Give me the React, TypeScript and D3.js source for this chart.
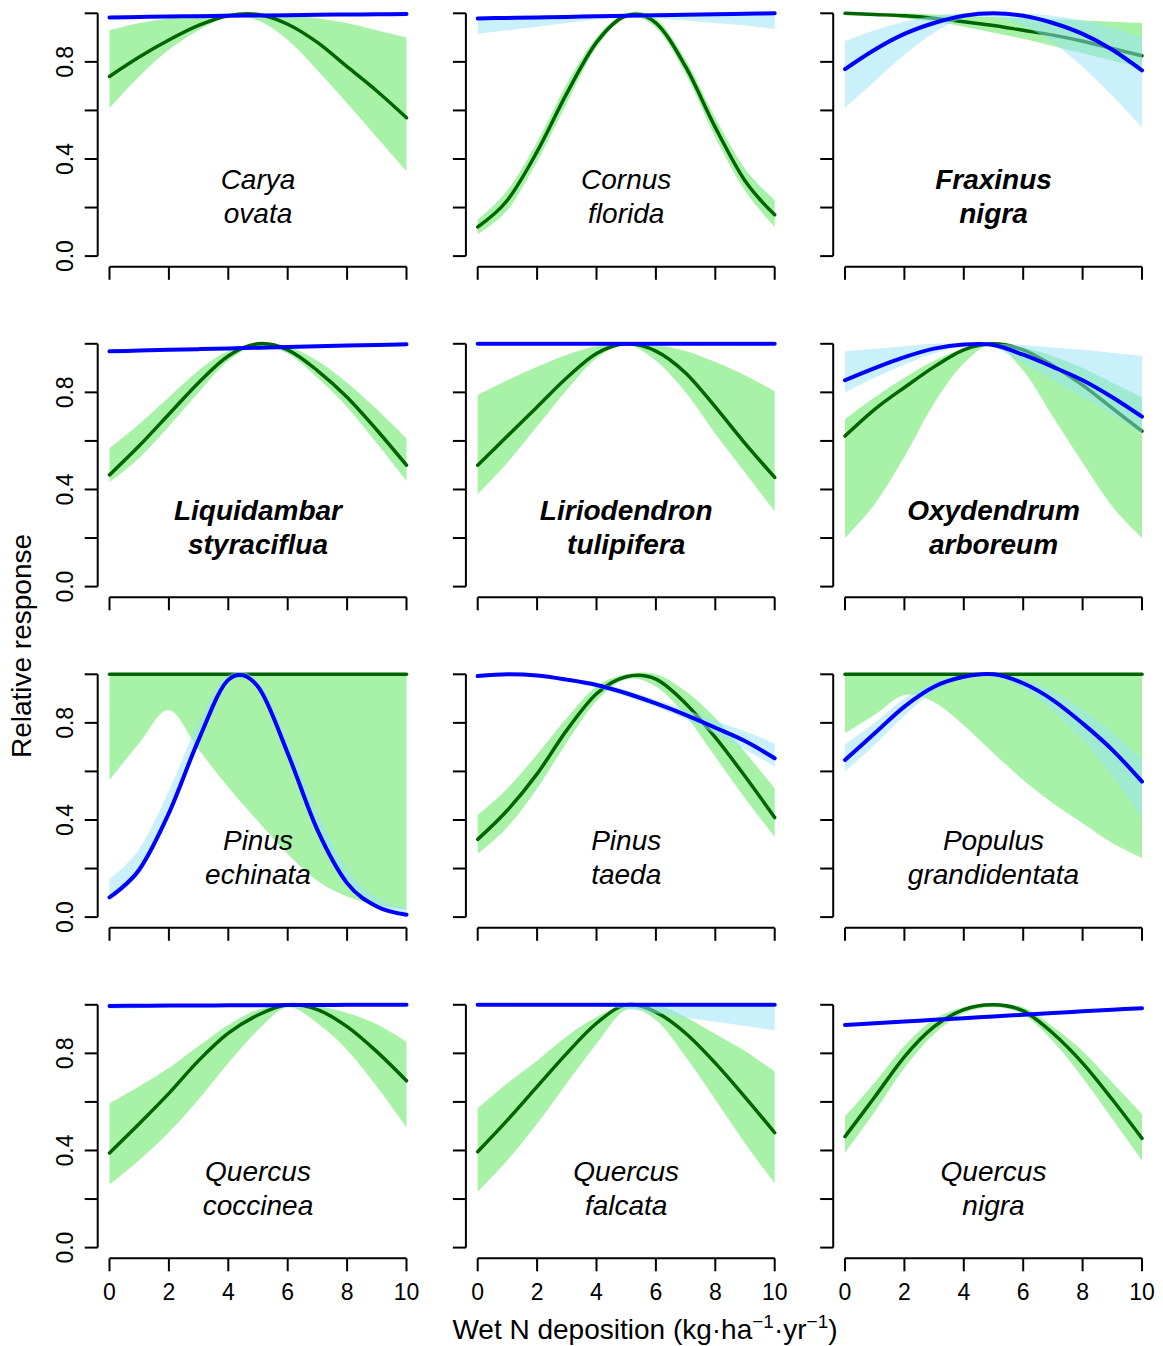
import React from 'react';
import * as d3 from 'd3';

const W = 1163;
const H = 1346;

// x positions where the curves were read (Wet N deposition, kg/ha/yr)
const xGrid = [0, 1, 2, 3, 4, 5, 6, 7, 8, 9, 10];
const xTicks = [0, 2, 4, 6, 8, 10];
const yTicks = [0, 0.2, 0.4, 0.6, 0.8, 1.0];
const yTickLabels = [0, 0.4, 0.8];

// ---------- Carya ovata ----------
const caryaG = [0.74, 0.82, 0.89, 0.95, 0.99, 0.995, 0.955, 0.88, 0.78, 0.68, 0.57];
const caryaGLo = [0.61, 0.74, 0.85, 0.93, 0.985, 0.97, 0.89, 0.765, 0.63, 0.49, 0.35];
const caryaGHi = [0.93, 0.96, 0.98, 0.995, 1, 1, 0.995, 0.98, 0.96, 0.93, 0.9];
const caryaB = [0.983, 0.985, 0.987, 0.988, 0.99, 0.991, 0.992, 0.994, 0.995, 0.996, 0.997];
const caryaBLo = [0.977, 0.979, 0.981, 0.983, 0.985, 0.986, 0.987, 0.989, 0.99, 0.991, 0.992];
const caryaBHi = [0.986, 0.988, 0.99, 0.991, 0.993, 0.994, 0.995, 0.997, 0.998, 0.999, 1];

// ---------- Cornus florida ----------
const cornusG = [0.12, 0.23, 0.43, 0.67, 0.88, 0.99, 0.96, 0.78, 0.53, 0.31, 0.17];
const cornusGLo = [0.09, 0.19, 0.39, 0.63, 0.86, 0.98, 0.94, 0.75, 0.49, 0.27, 0.12];
const cornusGHi = [0.15, 0.27, 0.47, 0.71, 0.9, 1.0, 0.98, 0.81, 0.57, 0.36, 0.23];
const cornusB = [0.979, 0.981, 0.983, 0.985, 0.988, 0.99, 0.992, 0.994, 0.996, 0.998, 1.0];
const cornusBLo = [0.915, 0.93, 0.945, 0.96, 0.975, 0.985, 0.98, 0.97, 0.96, 0.95, 0.935];
const cornusBHi = [0.985, 0.986, 0.988, 0.99, 0.992, 0.995, 0.997, 0.999, 1, 1, 1];

// ---------- Fraxinus nigra ----------
const fraxG = [1.0, 0.995, 0.99, 0.98, 0.965, 0.95, 0.93, 0.91, 0.885, 0.855, 0.825];
const fraxGLo = [0.995, 0.99, 0.98, 0.965, 0.945, 0.92, 0.895, 0.865, 0.835, 0.805, 0.78];
const fraxGHi = [1, 1, 1, 0.995, 0.99, 0.985, 0.98, 0.975, 0.97, 0.965, 0.96];
const fraxB = [0.77, 0.85, 0.915, 0.96, 0.99, 1.0, 0.99, 0.96, 0.915, 0.85, 0.765];
const fraxBLo = [0.61, 0.72, 0.83, 0.92, 0.98, 0.985, 0.95, 0.88, 0.78, 0.66, 0.53];
const fraxBHi = [0.885, 0.93, 0.965, 0.99, 1, 1, 1, 0.99, 0.97, 0.94, 0.9];

// ---------- Liquidambar styraciflua ----------
const liquG = [0.46, 0.58, 0.71, 0.84, 0.95, 1.0, 0.975, 0.89, 0.78, 0.645, 0.5];
const liquGLo = [0.43, 0.53, 0.66, 0.8, 0.93, 0.99, 0.96, 0.86, 0.74, 0.59, 0.435];
const liquGHi = [0.57, 0.67, 0.78, 0.89, 0.97, 1.0, 0.99, 0.93, 0.84, 0.73, 0.61];
const liquB = [0.969, 0.972, 0.975, 0.978, 0.981, 0.984, 0.987, 0.99, 0.993, 0.995, 0.998];
const liquBLo = [0.965, 0.968, 0.971, 0.974, 0.977, 0.98, 0.983, 0.986, 0.989, 0.991, 0.994];
const liquBHi = [0.972, 0.975, 0.978, 0.981, 0.984, 0.987, 0.99, 0.993, 0.996, 0.998, 1];

// ---------- Liriodendron tulipifera ----------
const lirioG = [0.5, 0.62, 0.74, 0.86, 0.96, 1.0, 0.97, 0.88, 0.74, 0.59, 0.45];
const lirioGLo = [0.38, 0.51, 0.66, 0.81, 0.94, 0.995, 0.93, 0.8, 0.63, 0.47, 0.31];
const lirioGHi = [0.79, 0.85, 0.905, 0.955, 0.99, 1.0, 0.995, 0.97, 0.925, 0.87, 0.805];
const lirioB = [1, 1, 1, 1, 1, 1, 1, 1, 1, 1, 1];
const lirioBLo = [0.998, 0.998, 0.998, 0.998, 0.998, 0.997, 0.996, 0.995, 0.994, 0.993, 0.992];
const lirioBHi = [1, 1, 1, 1, 1, 1, 1, 1, 1, 1, 1];

// ---------- Oxydendrum arboreum ----------
const oxyG = [0.62, 0.73, 0.82, 0.905, 0.975, 1.0, 0.975, 0.91, 0.83, 0.735, 0.64];
const oxyGLo = [0.2, 0.34, 0.535, 0.755, 0.92, 0.995, 0.89, 0.7, 0.51, 0.33, 0.2];
const oxyGHi = [0.69, 0.78, 0.86, 0.93, 0.98, 1.0, 0.985, 0.95, 0.9, 0.84, 0.78];
const oxyB = [0.85, 0.9, 0.945, 0.98, 0.997, 0.995, 0.955, 0.905, 0.85, 0.78, 0.7];
const oxyBLo = [0.8, 0.86, 0.915, 0.96, 0.99, 0.985, 0.92, 0.85, 0.78, 0.71, 0.63];
const oxyBHi = [0.97, 0.98, 0.99, 1, 1, 1, 0.995, 0.985, 0.975, 0.963, 0.95];

// ---------- Pinus echinata ----------
const echG = [1, 1, 1, 1, 1, 1, 1, 1, 1, 1, 1];
const echGLo = [0.565, 0.716, 0.853, 0.69, 0.535, 0.395, 0.26, 0.15, 0.085, 0.05, 0.03];
const echGHi = [1, 1, 1, 1, 1, 1, 1, 1, 1, 1, 1];
const echB = [0.081, 0.195, 0.428, 0.73, 0.977, 0.949, 0.675, 0.359, 0.14, 0.044, 0.01];
const echBLo = [0.075, 0.18, 0.41, 0.71, 0.97, 0.94, 0.66, 0.35, 0.13, 0.04, 0.008];
const echBHi = [0.155, 0.28, 0.52, 0.8, 0.995, 0.97, 0.73, 0.43, 0.2, 0.08, 0.04];

// ---------- Pinus taeda ----------
const taedaG = [0.32, 0.44, 0.59, 0.77, 0.92, 0.99, 0.98, 0.88, 0.74, 0.58, 0.41];
const taedaGLo = [0.26, 0.37, 0.53, 0.72, 0.89, 0.98, 0.95, 0.83, 0.66, 0.49, 0.33];
const taedaGHi = [0.42, 0.53, 0.67, 0.82, 0.95, 1.0, 1.0, 0.93, 0.82, 0.68, 0.53];
const taedaB = [0.993, 1.0, 0.995, 0.978, 0.956, 0.922, 0.88, 0.833, 0.78, 0.725, 0.654];
const taedaBLo = [0.985, 0.995, 0.99, 0.97, 0.945, 0.91, 0.865, 0.815, 0.755, 0.69, 0.62];
const taedaBHi = [1, 1, 1, 0.985, 0.965, 0.935, 0.895, 0.855, 0.81, 0.765, 0.715];

// ---------- Populus grandidentata ----------
const popG = [1, 1, 1, 1, 1, 1, 1, 1, 1, 1, 1];
const popGLo = [0.757, 0.833, 0.915, 0.885, 0.79, 0.675, 0.565, 0.469, 0.387, 0.305, 0.243];
const popGHi = [1, 1, 1, 1, 1, 1, 1, 1, 1, 1, 1];
const popB = [0.647, 0.757, 0.867, 0.949, 0.99, 1.0, 0.963, 0.894, 0.798, 0.689, 0.558];
const popBLo = [0.6, 0.71, 0.83, 0.93, 0.985, 0.99, 0.94, 0.85, 0.73, 0.58, 0.41];
const popBHi = [0.71, 0.8, 0.9, 0.965, 0.995, 1.0, 0.98, 0.93, 0.855, 0.76, 0.65];

// ---------- Quercus coccinea ----------
const coccG = [0.39, 0.51, 0.635, 0.77, 0.883, 0.958, 1.0, 0.98, 0.91, 0.807, 0.687];
const coccGLo = [0.26, 0.36, 0.475, 0.61, 0.76, 0.896, 0.99, 0.924, 0.814, 0.663, 0.495];
const coccGHi = [0.594, 0.665, 0.74, 0.83, 0.917, 0.98, 1.0, 0.995, 0.966, 0.92, 0.848];
const coccB = [0.995, 0.996, 0.997, 0.997, 0.998, 0.998, 0.999, 0.999, 1, 1, 1];
const coccBLo = [0.983, 0.986, 0.99, 0.993, 0.995, 0.996, 0.997, 0.998, 0.998, 0.998, 0.998];
const coccBHi = [0.998, 0.998, 0.999, 0.999, 1, 1, 1, 1, 1, 1, 1];

// ---------- Quercus falcata ----------
const falcG = [0.395, 0.525, 0.663, 0.8, 0.924, 1.0, 0.97, 0.883, 0.76, 0.62, 0.473];
const falcGLo = [0.23, 0.36, 0.51, 0.677, 0.84, 0.98, 0.937, 0.786, 0.61, 0.43, 0.265];
const falcGHi = [0.574, 0.677, 0.77, 0.87, 0.95, 1.0, 1.0, 0.95, 0.88, 0.81, 0.725];
const falcB = [1, 1, 1, 1, 1, 1, 1, 1, 1, 1, 1];
const falcBLo = [1, 1, 1, 0.998, 0.995, 0.983, 0.965, 0.948, 0.93, 0.913, 0.895];
const falcBHi = [1, 1, 1, 1, 1, 1, 1, 1, 1, 1, 1];

// ---------- Quercus nigra ----------
const qnigG = [0.457, 0.62, 0.786, 0.91, 0.98, 1.0, 0.975, 0.883, 0.76, 0.61, 0.45];
const qnigGLo = [0.39, 0.56, 0.74, 0.88, 0.965, 0.99, 0.96, 0.85, 0.7, 0.53, 0.36];
const qnigGHi = [0.54, 0.68, 0.83, 0.94, 0.99, 1.0, 0.99, 0.91, 0.81, 0.68, 0.55];
const qnigB = [0.917, 0.924, 0.931, 0.938, 0.945, 0.952, 0.959, 0.966, 0.973, 0.98, 0.986];
const qnigBLo = [0.912, 0.919, 0.926, 0.933, 0.94, 0.947, 0.954, 0.961, 0.968, 0.975, 0.981];
const qnigBHi = [0.921, 0.928, 0.935, 0.942, 0.949, 0.956, 0.963, 0.97, 0.977, 0.984, 0.99];

const genus = ['Carya', 'Cornus', 'Fraxinus', 'Liquidambar', 'Liriodendron', 'Oxydendrum',
  'Pinus', 'Pinus', 'Populus', 'Quercus', 'Quercus', 'Quercus'];
const epithet = ['ovata', 'florida', 'nigra', 'styraciflua', 'tulipifera', 'arboreum',
  'echinata', 'taeda', 'grandidentata', 'coccinea', 'falcata', 'nigra'];
const boldSpecies = [false, false, true, true, true, true, false, false, false, false, false, false];

const panels = [
  [caryaG, caryaGLo, caryaGHi, caryaB, caryaBLo, caryaBHi],
  [cornusG, cornusGLo, cornusGHi, cornusB, cornusBLo, cornusBHi],
  [fraxG, fraxGLo, fraxGHi, fraxB, fraxBLo, fraxBHi],
  [liquG, liquGLo, liquGHi, liquB, liquBLo, liquBHi],
  [lirioG, lirioGLo, lirioGHi, lirioB, lirioBLo, lirioBHi],
  [oxyG, oxyGLo, oxyGHi, oxyB, oxyBLo, oxyBHi],
  [echG, echGLo, echGHi, echB, echBLo, echBHi],
  [taedaG, taedaGLo, taedaGHi, taedaB, taedaBLo, taedaBHi],
  [popG, popGLo, popGHi, popB, popBLo, popBHi],
  [coccG, coccGLo, coccGHi, coccB, coccBLo, coccBHi],
  [falcG, falcGLo, falcGHi, falcB, falcBLo, falcBHi],
  [qnigG, qnigGLo, qnigGHi, qnigB, qnigBLo, qnigBHi],
];

// layout
const colLeft = [109.5, 477.7, 845];
const colWidth = 297;
const rowTop = [13.3, 343.8, 674.3, 1004.8];
const rowHeight = 242.8;

const FONT = "'Liberation Sans', Arial, Helvetica, sans-serif";
const GREEN_FILL = 'rgba(144,238,144,0.78)';
const BLUE_FILL = 'rgba(150,225,248,0.5)';
const GREEN_LINE = '#006400';
const BLUE_LINE = '#0000FF';

function Panel({ idx }: { idx: number }) {
  const col = idx % 3;
  const row = Math.floor(idx / 3);
  const [g, gLo, gHi, b, bLo, bHi] = panels[idx];
  const x = d3.scaleLinear().domain([0, 10]).range([colLeft[col], colLeft[col] + colWidth]);
  const y = d3.scaleLinear().domain([0, 1]).range([rowTop[row] + rowHeight, rowTop[row]]);
  const curve = d3.curveCardinal.tension(0);
  const areaPath = (lo: number[], hi: number[]) =>
    d3.area<number>()
      .x((_, i) => x(xGrid[i]))
      .y0((_, i) => y(lo[i]))
      .y1((_, i) => y(hi[i]))
      .curve(curve)(lo) || '';
  const linePath = (v: number[]) =>
    d3.line<number>()
      .x((_, i) => x(xGrid[i]))
      .y((d) => y(d))
      .curve(curve)(v) || '';

  const yAxisX = x(0) - 11.8;
  const xAxisY = y(0) + 10.7;
  const cx = (x(0) + x(10)) / 2;
  const top = rowTop[row];
  const clipId = `clip-${idx}`;
  const fontW = boldSpecies[idx] ? 'bold' : 'normal';

  return (
    <g>
      <defs>
        <clipPath id={clipId}>
          <rect x={x(0) - 3} y={y(1) - 2.5} width={x(10) - x(0) + 6} height={y(0) - y(1) + 5} />
        </clipPath>
      </defs>
      <g clipPath={`url(#${clipId})`}>
        <path d={areaPath(gLo, gHi)} fill={GREEN_FILL} stroke="none" />
        <path d={linePath(g)} fill="none" stroke={GREEN_LINE} strokeWidth={3.5} strokeLinecap="round" strokeLinejoin="round" />
        <path d={areaPath(bLo, bHi)} fill={BLUE_FILL} stroke="none" />
        <path d={linePath(b)} fill="none" stroke={BLUE_LINE} strokeWidth={4} strokeLinecap="round" strokeLinejoin="round" />
      </g>

      {/* y axis */}
      <line x1={yAxisX} x2={yAxisX} y1={y(0)} y2={y(1)} stroke="#000" strokeWidth={2} />
      {yTicks.map((t) => (
        <line key={'yt' + t} x1={yAxisX - 13} x2={yAxisX} y1={y(t)} y2={y(t)} stroke="#000" strokeWidth={2} />
      ))}
      {col === 0 && yTickLabels.map((t) => (
        <text key={'yl' + t} transform={`translate(${yAxisX - 25},${y(t)}) rotate(-90)`}
          textAnchor="middle" fontSize={23} fontFamily={FONT} fill="#000">{t.toFixed(1)}</text>
      ))}

      {/* x axis */}
      <line x1={x(0)} x2={x(10)} y1={xAxisY} y2={xAxisY} stroke="#000" strokeWidth={2} />
      {xTicks.map((t) => (
        <line key={'xt' + t} x1={x(t)} x2={x(t)} y1={xAxisY} y2={xAxisY + 13} stroke="#000" strokeWidth={2} />
      ))}
      {row === 3 && xTicks.map((t) => (
        <text key={'xl' + t} x={x(t)} y={xAxisY + 42} textAnchor="middle" fontSize={23}
          fontFamily={FONT} fill="#000">{t}</text>
      ))}

      {/* species label */}
      <text x={cx} y={top + 176} textAnchor="middle" fontSize={28} fontStyle="italic"
        fontWeight={fontW} fontFamily={FONT} fill="#000">{genus[idx]}</text>
      <text x={cx} y={top + 210} textAnchor="middle" fontSize={28} fontStyle="italic"
        fontWeight={fontW} fontFamily={FONT} fill="#000">{epithet[idx]}</text>
    </g>
  );
}

export default function App() {
  return (
    <svg width={W} height={H} viewBox={`0 0 ${W} ${H}`}
      style={{ position: 'absolute', left: 0, top: 0, background: '#fff' }}>
      <rect x={0} y={0} width={W} height={H} fill="#fff" />
      {panels.map((_, i) => <Panel key={i} idx={i} />)}
      <text transform={`translate(31,646) rotate(-90)`} textAnchor="middle" fontSize={28}
        fontFamily={FONT} fill="#000">Relative response</text>
      <text x={645} y={1339} textAnchor="middle" fontSize={28} fontFamily={FONT} fill="#000">
        Wet N deposition (kg·ha
        <tspan fontSize={19} dy={-11}>−1</tspan>
        <tspan dy={11}>·yr</tspan>
        <tspan fontSize={19} dy={-11}>−1</tspan>
        <tspan dy={11}>)</tspan>
      </text>
    </svg>
  );
}
